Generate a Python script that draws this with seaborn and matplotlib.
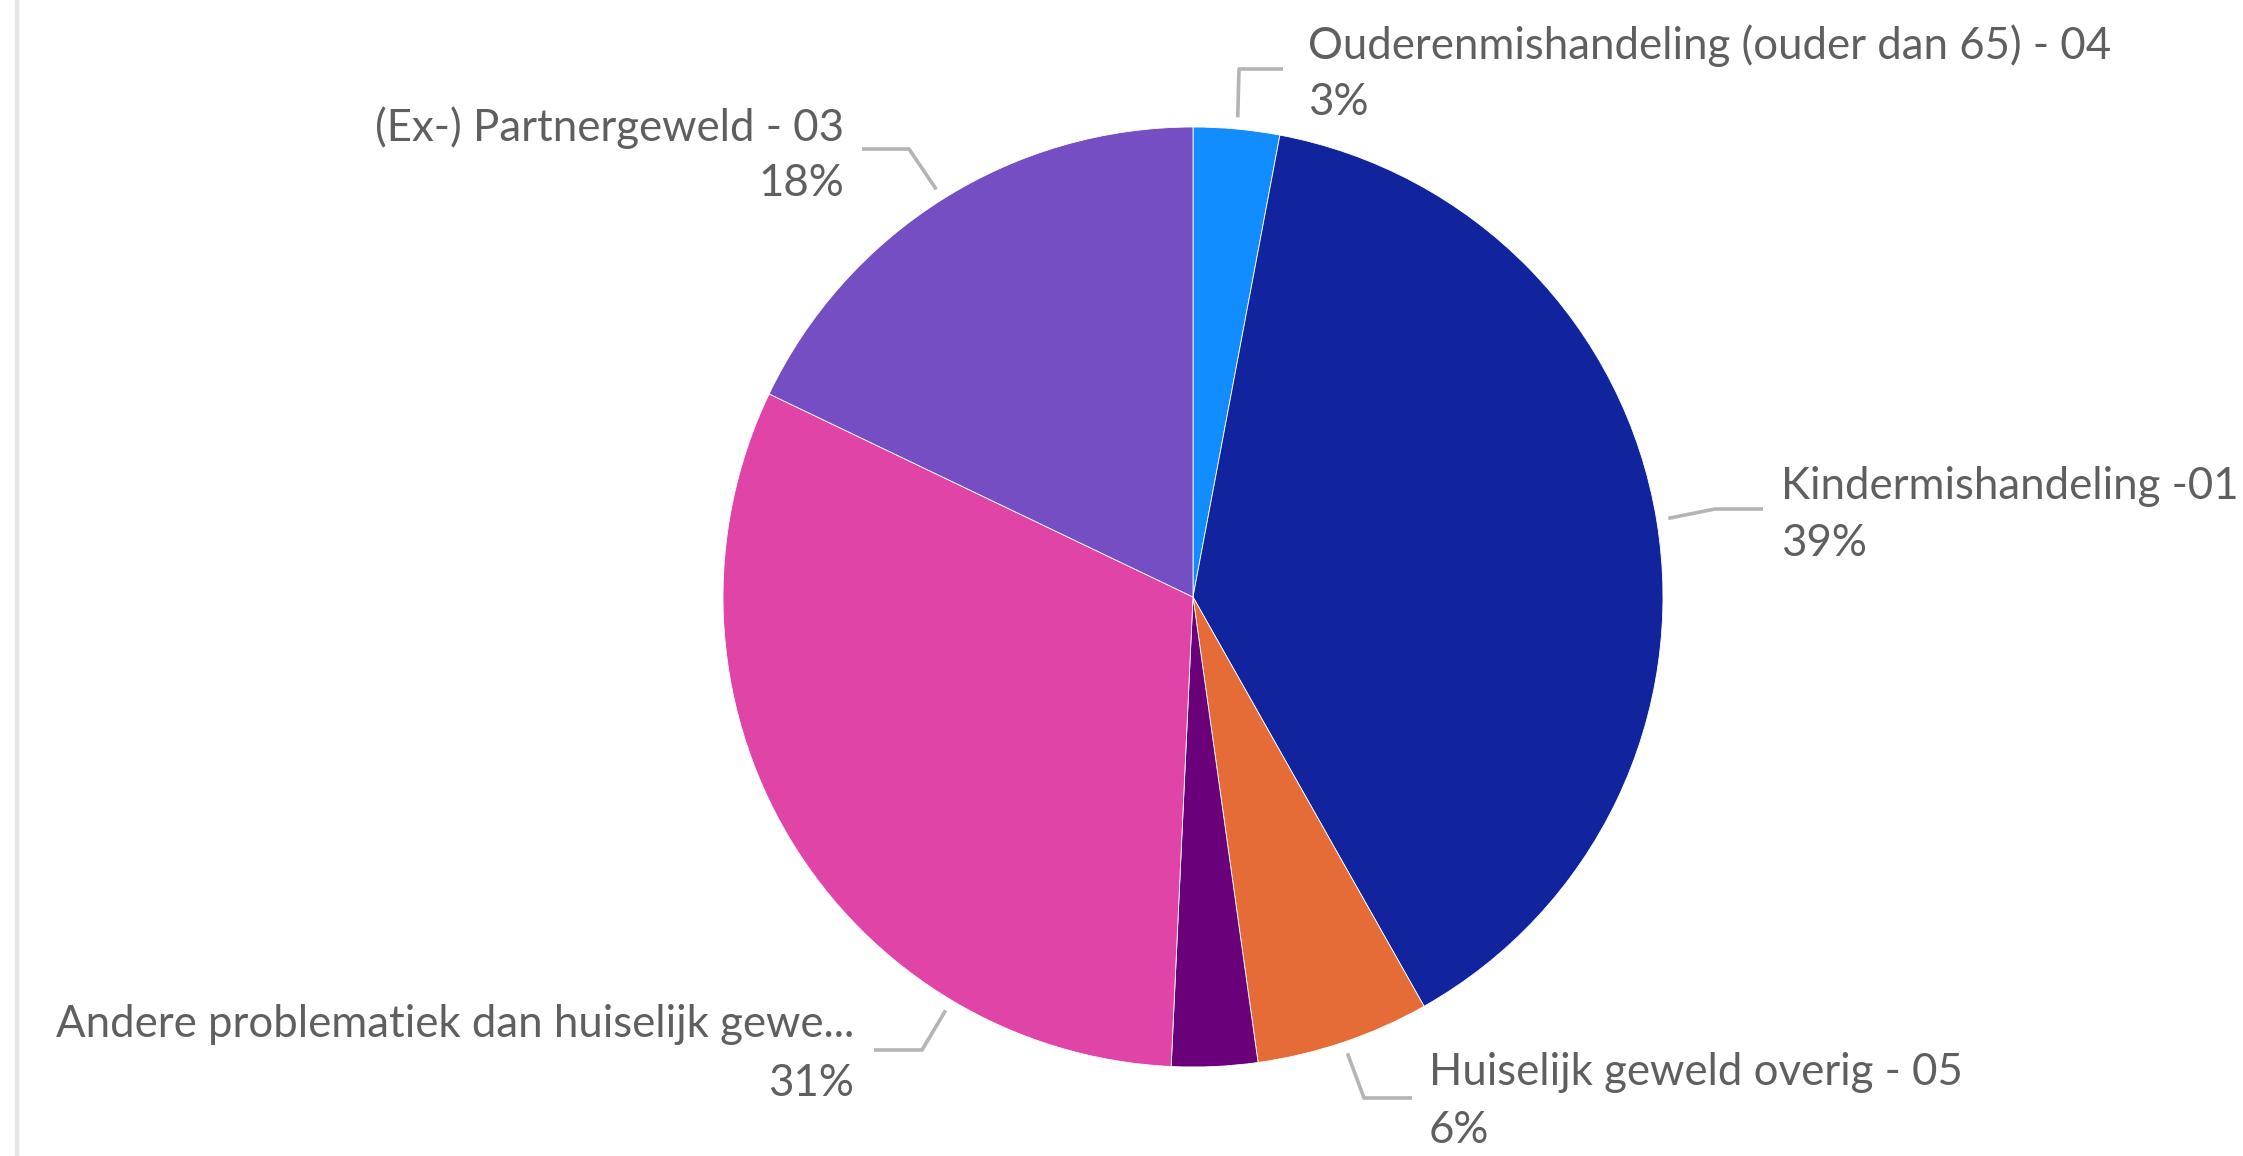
import matplotlib
matplotlib.use("Agg")
import matplotlib.pyplot as plt
import seaborn as sns
import numpy as np

# ---- data ----
categories = [
    "Ouderenmishandeling (ouder dan 65) - 04",
    "Kindermishandeling -01",
    "Huiselijk geweld overig - 05",
    "",  # unlabeled slice in the reference
    "Andere problematiek dan huiselijk gewe...",
    "(Ex-) Partnergeweld - 03",
]
shares = [2.96, 38.86, 5.97, 2.95, 31.37, 17.89]
pct_labels = ["3%", "39%", "6%", None, "31%", "18%"]
colors = ["#118DFF", "#12239E", "#E66C37", "#6B007B", "#E044A7", "#744EC2"]

# ---- layout (pixel space, y downward) ----
W, H = 2243, 1156
CX, CY, R = 1193, 597, 470

sns.set_theme(style="white")
plt.rcParams["font.family"] = ["Lato", "DejaVu Sans"]

fig = plt.figure(figsize=(W / 100, H / 100), dpi=100)
ax = fig.add_axes([0, 0, 1, 1])

def py(y):
    return H - y

wedges, _ = ax.pie(
    shares,
    colors=colors,
    startangle=90,
    counterclock=False,
    center=(CX, py(CY)),
    radius=R,
    wedgeprops=dict(edgecolor="white", linewidth=0.6),
)
ax.set_xlim(0, W)
ax.set_ylim(0, H)
ax.set_aspect("equal")
ax.axis("off")

# left border line
ax.plot([17, 17], [0, H], color="#e6e6e6", lw=3, solid_capstyle="butt")

txt_color = "#5f5f5f"
line_color = "#b4b4b4"
fs = 31.5

# label layout: (text x, ha, baseline1, baseline2, fraction into wedge (clockwise), elbow, end)
layout = {
    0: (1308, "left", 59, 115, 0.5, (1239, 69), (1283, 69)),
    1: (1781, "left", 499, 556, 0.5, (1715, 509), (1763, 509)),
    2: (1429, "left", 1085, 1143, 0.5, (1364, 1098), (1412, 1098)),
    4: (854, "right", 1037, 1096, 0.25, (922, 1050), (874, 1050)),
    5: (844, "right", 141, 196, 0.5, (909, 149), (862, 149)),
}

for i, (tx, ha, b1, b2, frac, elbow, end) in layout.items():
    w = wedges[i]
    th1, th2 = w.theta1, w.theta2
    th = np.deg2rad(th2 - (th2 - th1) * frac)
    sx = CX + 1.025 * R * np.cos(th)
    sy_data = py(CY) + 1.025 * R * np.sin(th)
    ax.plot([sx, elbow[0], end[0]], [sy_data, py(elbow[1]), py(end[1])],
            color=line_color, lw=2.6, solid_capstyle="butt")
    ax.text(tx, py(b1), categories[i], ha=ha, va="baseline",
            fontsize=fs, color=txt_color)
    ax.text(tx, py(b2), pct_labels[i], ha=ha, va="baseline",
            fontsize=fs, color=txt_color)

fig.savefig("out.png", dpi=100, facecolor="white")
